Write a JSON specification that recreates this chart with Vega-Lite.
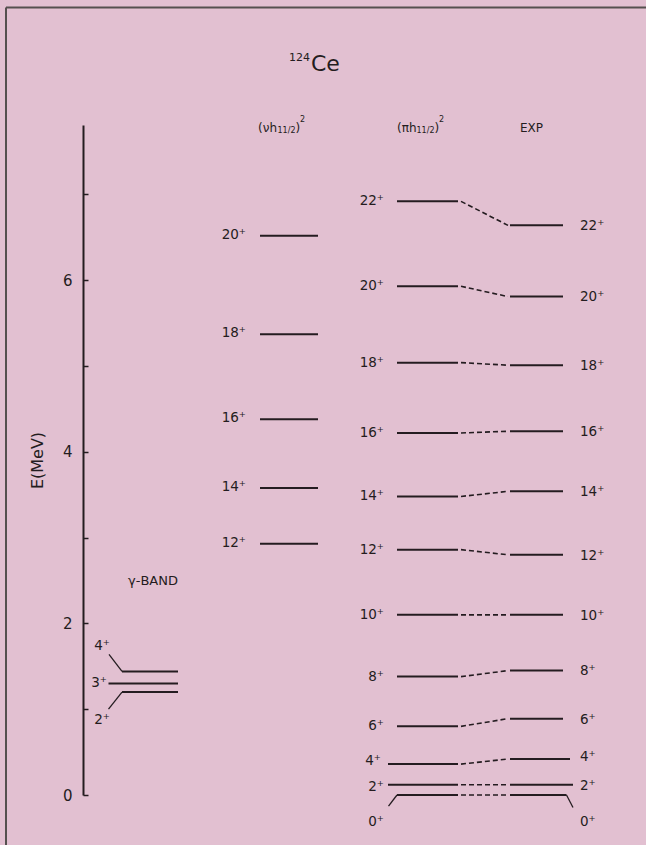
{
  "$schema": "https://vega.github.io/schema/vega-lite/v6.json",
  "width": 560,
  "height": 670,
  "autosize": {"type": "none"},
  "padding": {"left": 83, "top": 125, "right": 3, "bottom": 50},
  "background": "#e2c0d1",
  "config": {
    "view": {"stroke": null},
    "text": {"font": "DejaVu Sans", "color": "#241c20"},
    "axis": {"labelFont": "DejaVu Sans", "titleFont": "DejaVu Sans"}
  },
  "datasets": {
    "levels": [
      {"col": "gamma", "label": "4⁺", "E": 1.44, "x1": 7.8, "x2": 19, "lx": 5.4, "lE": 1.74},
      {"col": "gamma", "label": "3⁺", "E": 1.30, "x1": 5.1, "x2": 19, "lx": 4.8, "lE": 1.31},
      {"col": "gamma", "label": "2⁺", "E": 1.20, "x1": 7.8, "x2": 19, "lx": 5.4, "lE": 0.88},
      {"col": "nu", "label": "20⁺", "E": 6.52, "x1": 35.4, "x2": 47, "lx": 32.6, "lE": 6.53},
      {"col": "nu", "label": "18⁺", "E": 5.37, "x1": 35.4, "x2": 47, "lx": 32.6, "lE": 5.38},
      {"col": "nu", "label": "16⁺", "E": 4.38, "x1": 35.4, "x2": 47, "lx": 32.6, "lE": 4.39},
      {"col": "nu", "label": "14⁺", "E": 3.58, "x1": 35.4, "x2": 47, "lx": 32.6, "lE": 3.59},
      {"col": "nu", "label": "12⁺", "E": 2.93, "x1": 35.4, "x2": 47, "lx": 32.6, "lE": 2.94},
      {"col": "pi", "label": "22⁺", "E": 6.92, "x1": 62.8, "x2": 75, "lx": 60.2, "lE": 6.92},
      {"col": "pi", "label": "20⁺", "E": 5.93, "x1": 62.8, "x2": 75, "lx": 60.2, "lE": 5.93},
      {"col": "pi", "label": "18⁺", "E": 5.04, "x1": 62.8, "x2": 75, "lx": 60.2, "lE": 5.04},
      {"col": "pi", "label": "16⁺", "E": 4.22, "x1": 62.8, "x2": 75, "lx": 60.2, "lE": 4.22},
      {"col": "pi", "label": "14⁺", "E": 3.48, "x1": 62.8, "x2": 75, "lx": 60.2, "lE": 3.48},
      {"col": "pi", "label": "12⁺", "E": 2.86, "x1": 62.8, "x2": 75, "lx": 60.2, "lE": 2.86},
      {"col": "pi", "label": "10⁺", "E": 2.10, "x1": 62.8, "x2": 75, "lx": 60.2, "lE": 2.10},
      {"col": "pi", "label": "8⁺", "E": 1.38, "x1": 62.8, "x2": 75, "lx": 60.2, "lE": 1.38},
      {"col": "pi", "label": "6⁺", "E": 0.80, "x1": 62.8, "x2": 75, "lx": 60.2, "lE": 0.80},
      {"col": "pi", "label": "4⁺", "E": 0.36, "x1": 61.0, "x2": 75, "lx": 59.6, "lE": 0.40},
      {"col": "pi", "label": "2⁺", "E": 0.12, "x1": 61.0, "x2": 75, "lx": 60.2, "lE": 0.09},
      {"col": "pi", "label": "0⁺", "E": 0.0, "x1": 62.8, "x2": 75, "lx": 60.2, "lE": -0.31},
      {"col": "exp", "label": "22⁺", "E": 6.64, "x1": 85.4, "x2": 96, "lx": 99.4, "lE": 6.63},
      {"col": "exp", "label": "20⁺", "E": 5.81, "x1": 85.4, "x2": 96, "lx": 99.4, "lE": 5.80},
      {"col": "exp", "label": "18⁺", "E": 5.01, "x1": 85.4, "x2": 96, "lx": 99.4, "lE": 5.00},
      {"col": "exp", "label": "16⁺", "E": 4.24, "x1": 85.4, "x2": 96, "lx": 99.4, "lE": 4.23},
      {"col": "exp", "label": "14⁺", "E": 3.54, "x1": 85.4, "x2": 96, "lx": 99.4, "lE": 3.53},
      {"col": "exp", "label": "12⁺", "E": 2.80, "x1": 85.4, "x2": 96, "lx": 99.4, "lE": 2.79},
      {"col": "exp", "label": "10⁺", "E": 2.10, "x1": 85.4, "x2": 96, "lx": 99.4, "lE": 2.09},
      {"col": "exp", "label": "8⁺", "E": 1.45, "x1": 85.4, "x2": 96, "lx": 99.4, "lE": 1.44},
      {"col": "exp", "label": "6⁺", "E": 0.89, "x1": 85.4, "x2": 96, "lx": 99.4, "lE": 0.88},
      {"col": "exp", "label": "4⁺", "E": 0.42, "x1": 85.4, "x2": 97.4, "lx": 99.4, "lE": 0.44},
      {"col": "exp", "label": "2⁺", "E": 0.12, "x1": 85.4, "x2": 98, "lx": 99.4, "lE": 0.10},
      {"col": "exp", "label": "0⁺", "E": 0.0, "x1": 85.4, "x2": 96.7, "lx": 99.4, "lE": -0.31}
    ],
    "links": [
      {"spin": "22", "x": 75.6, "E": 6.92}, {"spin": "22", "x": 85.0, "E": 6.64},
      {"spin": "20", "x": 75.6, "E": 5.93}, {"spin": "20", "x": 85.0, "E": 5.81},
      {"spin": "18", "x": 75.6, "E": 5.04}, {"spin": "18", "x": 85.0, "E": 5.01},
      {"spin": "16", "x": 75.6, "E": 4.22}, {"spin": "16", "x": 85.0, "E": 4.24},
      {"spin": "14", "x": 75.6, "E": 3.48}, {"spin": "14", "x": 85.0, "E": 3.54},
      {"spin": "12", "x": 75.6, "E": 2.86}, {"spin": "12", "x": 85.0, "E": 2.80},
      {"spin": "10", "x": 75.6, "E": 2.10}, {"spin": "10", "x": 85.0, "E": 2.10},
      {"spin": "8", "x": 75.6, "E": 1.38}, {"spin": "8", "x": 85.0, "E": 1.45},
      {"spin": "6", "x": 75.6, "E": 0.80}, {"spin": "6", "x": 85.0, "E": 0.89},
      {"spin": "4", "x": 75.6, "E": 0.36}, {"spin": "4", "x": 85.0, "E": 0.42},
      {"spin": "2", "x": 75.6, "E": 0.12}, {"spin": "2", "x": 85.0, "E": 0.12},
      {"spin": "0", "x": 75.6, "E": 0.0}, {"spin": "0", "x": 85.0, "E": 0.0}
    ],
    "leaders": [
      {"id": "g4", "x": 5.2, "E": 1.64}, {"id": "g4", "x": 7.8, "E": 1.44},
      {"id": "g2", "x": 5.1, "E": 1.00}, {"id": "g2", "x": 7.8, "E": 1.20},
      {"id": "p0", "x": 61.1, "E": -0.13}, {"id": "p0", "x": 62.8, "E": 0.0},
      {"id": "e0", "x": 96.7, "E": 0.0}, {"id": "e0", "x": 98.0, "E": -0.146}
    ],
    "frame": [
      {"id": "top", "x": -15.4, "E": 9.18}, {"id": "top", "x": 113, "E": 9.18},
      {"id": "left", "x": -15.4, "E": 9.18}, {"id": "left", "x": -15.4, "E": -0.6}
    ],
    "texts": [
      {"kind": "title", "text": "Ce", "x": 45.6, "E": 8.44},
      {"kind": "titleSup", "text": "124", "x": 45.4, "E": 8.56},
      {"kind": "head", "text": "(νh", "x": 35.0, "E": 7.78},
      {"kind": "headSub", "text": "11/2", "x": 38.9, "E": 7.74},
      {"kind": "head", "text": ")", "x": 42.5, "E": 7.78},
      {"kind": "headSup", "text": "2", "x": 43.4, "E": 7.87},
      {"kind": "head", "text": "(πh", "x": 62.8, "E": 7.78},
      {"kind": "headSub", "text": "11/2", "x": 66.7, "E": 7.74},
      {"kind": "head", "text": ")", "x": 70.3, "E": 7.78},
      {"kind": "headSup", "text": "2", "x": 71.2, "E": 7.87},
      {"kind": "head", "text": "EXP", "x": 87.4, "E": 7.78},
      {"kind": "band", "text": "γ-BAND", "x": 14.0, "E": 2.49}
    ]
  },
  "layer": [
    {
      "data": {"name": "levels"},
      "mark": {"type": "rule", "color": "#241c20", "strokeWidth": 2},
      "encoding": {
        "x": {"field": "x1", "type": "quantitative", "scale": {"domain": [0, 112], "nice": false, "zero": false}, "axis": null},
        "x2": {"field": "x2"},
        "y": {
          "field": "E",
          "type": "quantitative",
          "scale": {"domain": [0, 7.81], "nice": false, "zero": false},
          "axis": {
            "title": "E(MeV)",
            "values": [0, 1, 2, 3, 4, 5, 6, 7],
            "format": "d",
            "labelExpr": "datum.value % 2 == 0 ? datum.label : ''",
            "grid": false,
            "domainColor": "#241c20",
            "domainWidth": 2,
            "tickColor": "#241c20",
            "tickWidth": 1.5,
            "tickSize": -5,
            "labelFontSize": 15,
            "labelColor": "#241c20",
            "labelPadding": 16,
            "titleFontSize": 16,
            "titleFontWeight": "normal",
            "titleColor": "#241c20",
            "titlePadding": 17
          }
        }
      }
    },
    {
      "data": {"name": "frame"},
      "mark": {"type": "line", "color": "#55504f", "strokeWidth": 2},
      "encoding": {
        "x": {"field": "x", "type": "quantitative"},
        "y": {"field": "E", "type": "quantitative"},
        "detail": {"field": "id", "type": "nominal"}
      }
    },
    {
      "data": {"name": "links"},
      "mark": {"type": "line", "color": "#241c20", "strokeWidth": 1.6, "strokeDash": [5, 3]},
      "encoding": {
        "x": {"field": "x", "type": "quantitative"},
        "y": {"field": "E", "type": "quantitative"},
        "detail": {"field": "spin", "type": "nominal"}
      }
    },
    {
      "data": {"name": "leaders"},
      "mark": {"type": "line", "color": "#241c20", "strokeWidth": 1.3},
      "encoding": {
        "x": {"field": "x", "type": "quantitative"},
        "y": {"field": "E", "type": "quantitative"},
        "detail": {"field": "id", "type": "nominal"}
      }
    },
    {
      "data": {"name": "levels"},
      "transform": [{"filter": "datum.col != 'exp'"}],
      "mark": {"type": "text", "align": "right", "baseline": "middle", "fontSize": 13.5},
      "encoding": {
        "x": {"field": "lx", "type": "quantitative"},
        "y": {"field": "lE", "type": "quantitative"},
        "text": {"field": "label"}
      }
    },
    {
      "data": {"name": "levels"},
      "transform": [{"filter": "datum.col == 'exp'"}],
      "mark": {"type": "text", "align": "left", "baseline": "middle", "fontSize": 13.5},
      "encoding": {
        "x": {"field": "lx", "type": "quantitative"},
        "y": {"field": "lE", "type": "quantitative"},
        "text": {"field": "label"}
      }
    },
    {
      "data": {"name": "texts"},
      "transform": [{"filter": "datum.kind == 'title'"}],
      "mark": {"type": "text", "align": "left", "baseline": "alphabetic", "fontSize": 22},
      "encoding": {
        "x": {"field": "x", "type": "quantitative"},
        "y": {"field": "E", "type": "quantitative"},
        "text": {"field": "text"}
      }
    },
    {
      "data": {"name": "texts"},
      "transform": [{"filter": "datum.kind == 'titleSup'"}],
      "mark": {"type": "text", "align": "right", "baseline": "alphabetic", "fontSize": 11},
      "encoding": {
        "x": {"field": "x", "type": "quantitative"},
        "y": {"field": "E", "type": "quantitative"},
        "text": {"field": "text"}
      }
    },
    {
      "data": {"name": "texts"},
      "transform": [{"filter": "datum.kind == 'head'"}],
      "mark": {"type": "text", "align": "left", "baseline": "middle", "fontSize": 12},
      "encoding": {
        "x": {"field": "x", "type": "quantitative"},
        "y": {"field": "E", "type": "quantitative"},
        "text": {"field": "text"}
      }
    },
    {
      "data": {"name": "texts"},
      "transform": [{"filter": "datum.kind == 'headSub' || datum.kind == 'headSup'"}],
      "mark": {"type": "text", "align": "left", "baseline": "middle", "fontSize": 8},
      "encoding": {
        "x": {"field": "x", "type": "quantitative"},
        "y": {"field": "E", "type": "quantitative"},
        "text": {"field": "text"}
      }
    },
    {
      "data": {"name": "texts"},
      "transform": [{"filter": "datum.kind == 'band'"}],
      "mark": {"type": "text", "align": "center", "baseline": "middle", "fontSize": 13},
      "encoding": {
        "x": {"field": "x", "type": "quantitative"},
        "y": {"field": "E", "type": "quantitative"},
        "text": {"field": "text"}
      }
    }
  ]
}
